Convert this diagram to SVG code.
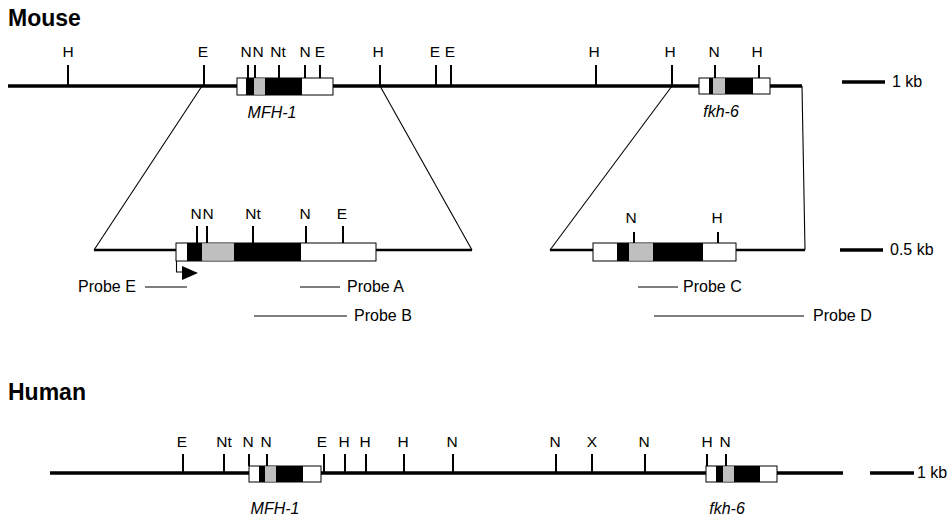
<svg xmlns="http://www.w3.org/2000/svg" width="949" height="518" viewBox="0 0 949 518">
<style>
text{font-family:"Liberation Sans",Arial,sans-serif;fill:#000}
.title{font-size:23px;font-weight:bold}
.lab{font-size:15.5px;text-anchor:middle}
.gene{font-size:16px;font-style:italic;text-anchor:middle}
.probe{font-size:16px}
.main{stroke:#000;stroke-width:3.5;fill:none}
.sub{stroke:#000;stroke-width:2.5;fill:none}
.tick{stroke:#000;stroke-width:2;fill:none}
.thin{stroke:#000;stroke-width:1.1;fill:none}
.box{fill:#fff;stroke:#000;stroke-width:1}
.blk{fill:#000}
.gry{fill:#bfbfbf}
</style>

<text class="title" x="8" y="26">Mouse</text>
<text class="title" x="8" y="400">Human</text>

<g id="connectors">
  <line class="thin" x1="202" y1="86" x2="94" y2="250"/>
  <line class="thin" x1="380" y1="86" x2="472" y2="250"/>
  <line class="thin" x1="672" y1="86" x2="550" y2="250"/>
  <line class="thin" x1="802" y1="86" x2="805" y2="250"/>
</g>

<g id="mouse-genomic">
  <line class="main" x1="8" y1="86" x2="802" y2="86"/>
  <g class="tick">
    <line x1="68" y1="65" x2="68" y2="86"/>
    <line x1="204" y1="65" x2="204" y2="86"/>
    <line x1="248" y1="65" x2="248" y2="78"/>
    <line x1="255" y1="65" x2="255" y2="78"/>
    <line x1="279" y1="65" x2="279" y2="78"/>
    <line x1="305" y1="65" x2="305" y2="78"/>
    <line x1="320" y1="65" x2="320" y2="78"/>
    <line x1="380" y1="65" x2="380" y2="86"/>
    <line x1="436" y1="65" x2="436" y2="86"/>
    <line x1="451" y1="65" x2="451" y2="86"/>
    <line x1="596" y1="65" x2="596" y2="86"/>
    <line x1="672" y1="65" x2="672" y2="86"/>
    <line x1="715" y1="65" x2="715" y2="78"/>
    <line x1="759" y1="65" x2="759" y2="78"/>
  </g>
  <text class="lab" x="68" y="57">H</text>
  <text class="lab" x="203" y="57">E</text>
  <text class="lab" x="246" y="57">N</text>
  <text class="lab" x="258" y="57">N</text>
  <text class="lab" x="278" y="57">Nt</text>
  <text class="lab" x="305" y="57">N</text>
  <text class="lab" x="320" y="57">E</text>
  <text class="lab" x="378" y="57">H</text>
  <text class="lab" x="435" y="57">E</text>
  <text class="lab" x="450" y="57">E</text>
  <text class="lab" x="594" y="57">H</text>
  <text class="lab" x="670" y="57">H</text>
  <text class="lab" x="714" y="57">N</text>
  <text class="lab" x="757" y="57">H</text>
</g>

<g id="mouse-mfh1">
  <rect class="box" x="237" y="78" width="96" height="17"/>
  <rect class="blk" x="246" y="78" width="8" height="17"/>
  <rect class="gry" x="254" y="78.5" width="11" height="16"/>
  <rect class="blk" x="265" y="78" width="37" height="17"/>
  <text class="gene" x="272" y="118">MFH-1</text>
</g>

<g id="mouse-fkh6">
  <rect class="box" x="699" y="78" width="71" height="16"/>
  <rect class="blk" x="709" y="78" width="4" height="16"/>
  <rect class="gry" x="713" y="78.5" width="12" height="15"/>
  <rect class="blk" x="725" y="78" width="28" height="16"/>
  <text class="gene" x="721" y="117">fkh-6</text>
</g>

<g id="scale-1kb-mouse">
  <line class="main" x1="842" y1="82" x2="885" y2="82"/>
  <text class="probe" x="892" y="87">1 kb</text>
</g>

<g id="mfh1-detail">
  <line class="sub" x1="94" y1="250" x2="472" y2="250"/>
  <rect class="box" x="176" y="243" width="200" height="18"/>
  <rect class="blk" x="187" y="243" width="15" height="18"/>
  <rect class="gry" x="202" y="243.5" width="32" height="17"/>
  <rect class="blk" x="234" y="243" width="67" height="18"/>
  <g class="tick">
    <line x1="197" y1="226" x2="197" y2="243"/>
    <line x1="207" y1="226" x2="207" y2="243"/>
    <line x1="253" y1="226" x2="253" y2="243"/>
    <line x1="306" y1="226" x2="306" y2="243"/>
    <line x1="343" y1="226" x2="343" y2="243"/>
  </g>
  <text class="lab" x="196" y="219">N</text>
  <text class="lab" x="208" y="219">N</text>
  <text class="lab" x="253" y="219">Nt</text>
  <text class="lab" x="305" y="219">N</text>
  <text class="lab" x="342" y="219">E</text>
  <polyline class="thin" points="176.5,261 176.5,272 184,272"/>
  <polygon class="blk" points="182,266 198,273 182,280"/>
</g>

<g id="probes-mfh1">
  <line class="thin" x1="145" y1="287" x2="187" y2="287"/>
  <text class="probe" x="78" y="292">Probe E</text>
  <line class="thin" x1="300" y1="287" x2="340" y2="287"/>
  <text class="probe" x="347" y="292">Probe A</text>
  <line class="thin" x1="254" y1="316" x2="347" y2="316"/>
  <text class="probe" x="354" y="321">Probe B</text>
</g>

<g id="fkh6-detail">
  <line class="sub" x1="550" y1="250" x2="805" y2="250"/>
  <rect class="box" x="593" y="243" width="143" height="18"/>
  <rect class="blk" x="617" y="243" width="12" height="18"/>
  <rect class="gry" x="629" y="243.5" width="24" height="17"/>
  <rect class="blk" x="653" y="243" width="50" height="18"/>
  <g class="tick">
    <line x1="634" y1="232" x2="634" y2="243"/>
    <line x1="718" y1="232" x2="718" y2="243"/>
  </g>
  <text class="lab" x="631" y="223">N</text>
  <text class="lab" x="717" y="223">H</text>
</g>

<g id="scale-05kb">
  <line class="main" x1="840" y1="250" x2="883" y2="250"/>
  <text class="probe" x="890" y="255">0.5 kb</text>
</g>

<g id="probes-fkh6">
  <line class="thin" x1="638" y1="287" x2="678" y2="287"/>
  <text class="probe" x="683" y="292">Probe C</text>
  <line class="thin" x1="654" y1="316" x2="804" y2="316"/>
  <text class="probe" x="813" y="321">Probe D</text>
</g>

<g id="human-genomic">
  <line class="main" x1="50" y1="473" x2="843" y2="473"/>
  <g class="tick">
    <line x1="183" y1="454" x2="183" y2="473"/>
    <line x1="224" y1="454" x2="224" y2="473"/>
    <line x1="249" y1="454" x2="249" y2="466"/>
    <line x1="267" y1="454" x2="267" y2="466"/>
    <line x1="324" y1="454" x2="324" y2="473"/>
    <line x1="345" y1="454" x2="345" y2="473"/>
    <line x1="366" y1="454" x2="366" y2="473"/>
    <line x1="404" y1="454" x2="404" y2="473"/>
    <line x1="453" y1="454" x2="453" y2="473"/>
    <line x1="556" y1="454" x2="556" y2="473"/>
    <line x1="592" y1="454" x2="592" y2="473"/>
    <line x1="645" y1="454" x2="645" y2="473"/>
    <line x1="707" y1="454" x2="707" y2="466"/>
    <line x1="726" y1="454" x2="726" y2="466"/>
  </g>
  <text class="lab" x="182" y="447">E</text>
  <text class="lab" x="224" y="447">Nt</text>
  <text class="lab" x="248" y="447">N</text>
  <text class="lab" x="266" y="447">N</text>
  <text class="lab" x="322" y="447">E</text>
  <text class="lab" x="344" y="447">H</text>
  <text class="lab" x="365" y="447">H</text>
  <text class="lab" x="403" y="447">H</text>
  <text class="lab" x="452" y="447">N</text>
  <text class="lab" x="555" y="447">N</text>
  <text class="lab" x="592" y="447">X</text>
  <text class="lab" x="644" y="447">N</text>
  <text class="lab" x="707" y="447">H</text>
  <text class="lab" x="725" y="447">N</text>
</g>

<g id="human-mfh1">
  <rect class="box" x="249" y="466" width="72" height="16"/>
  <rect class="blk" x="259" y="466" width="6" height="16"/>
  <rect class="gry" x="265" y="466.5" width="11" height="15"/>
  <rect class="blk" x="276" y="466" width="27" height="16"/>
  <text class="gene" x="275" y="514">MFH-1</text>
</g>

<g id="human-fkh6">
  <rect class="box" x="706" y="466" width="71" height="16"/>
  <rect class="blk" x="716" y="466" width="7" height="16"/>
  <rect class="gry" x="723" y="466.5" width="11" height="15"/>
  <rect class="blk" x="734" y="466" width="26" height="16"/>
  <text class="gene" x="727" y="514">fkh-6</text>
</g>

<g id="scale-1kb-human">
  <line class="main" x1="870" y1="473" x2="914" y2="473"/>
  <text class="probe" x="917" y="478">1 kb</text>
</g>
</svg>
